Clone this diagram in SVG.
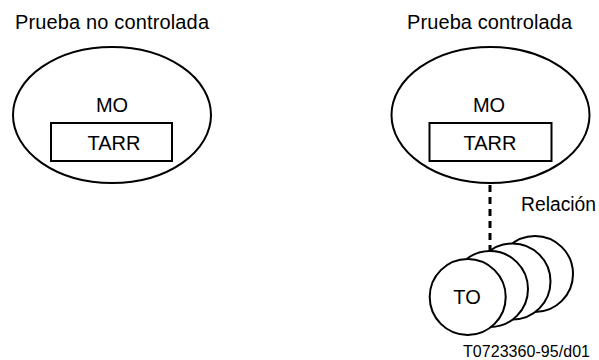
<svg xmlns="http://www.w3.org/2000/svg" width="599" height="360" viewBox="0 0 599 360">
<style>
.shape{fill:#fff;stroke:#000;stroke-width:2}
.t{font-family:"Liberation Sans",Arial,sans-serif;font-size:20px;fill:#000}
.c{text-anchor:middle}
.conn{stroke:#000;stroke-width:3;stroke-dasharray:7 5;fill:none}
</style>
<rect width="599" height="360" fill="#fff"/>
<text class="t" x="15" y="29" textLength="194" lengthAdjust="spacing">Prueba no controlada</text>
<text class="t" x="407" y="29" textLength="165" lengthAdjust="spacing">Prueba controlada</text>
<g id="mo-left">
<ellipse class="shape" cx="112" cy="115" rx="99" ry="68"/>
<text class="t c" x="112" y="112">MO</text>
</g>
<g id="tarr-left">
<rect class="shape" x="51" y="123" width="121" height="38"/>
<text class="t c" x="114" y="150">TARR</text>
</g>
<g id="mo-right">
<ellipse class="shape" cx="490.5" cy="115" rx="99" ry="68"/>
<text class="t c" x="489" y="112">MO</text>
</g>
<g id="tarr-right">
<rect class="shape" x="429.5" y="123" width="122" height="38"/>
<text class="t c" x="490" y="150">TARR</text>
</g>
<g id="connectors">
<line class="conn" x1="490" y1="185" x2="490" y2="251"/>
</g>
<text class="t" x="521" y="211" textLength="75" lengthAdjust="spacingAndGlyphs">Relación</text>
<g id="to-stack">
<circle class="shape" cx="535" cy="274" r="38"/>
<circle class="shape" cx="512.5" cy="281.5" r="38"/>
<circle class="shape" cx="490" cy="289" r="38"/>
<circle class="shape" cx="467.7" cy="297" r="38"/>
<text class="t c" x="467" y="304">TO</text>
</g>
<text class="t" style="font-size:16px" x="463" y="357" textLength="127" lengthAdjust="spacing">T0723360-95/d01</text>
</svg>
